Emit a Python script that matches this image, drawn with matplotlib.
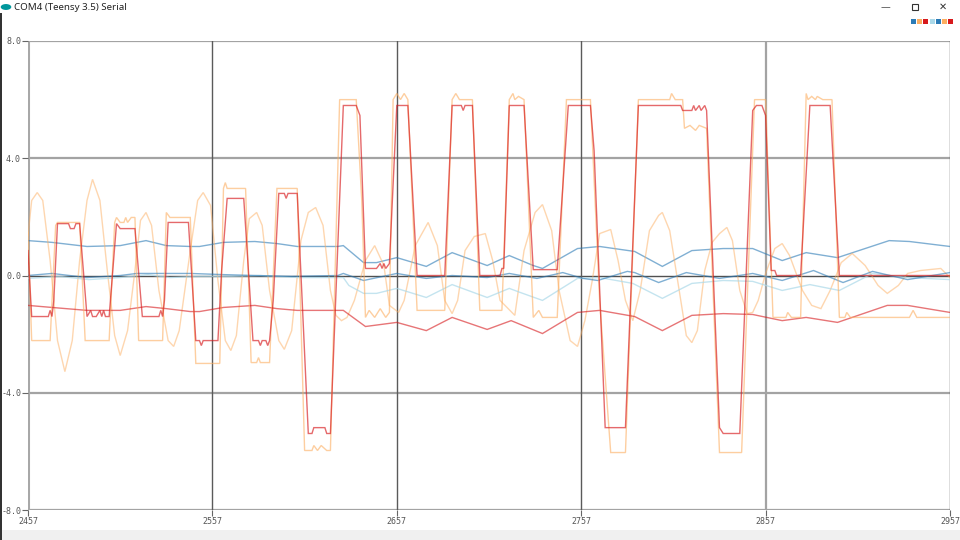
import matplotlib
matplotlib.use("Agg")
import matplotlib.pyplot as plt
from matplotlib.patches import Rectangle, Circle

# ---------------- data (sample index, value) ----------------
blue_up_x = [2457, 2470, 2489, 2507, 2521, 2532, 2545, 2550, 2563, 2580, 2592, 2603, 2625, 2628, 2639, 2646,
             2657, 2673, 2687, 2706, 2718, 2731, 2736, 2755, 2767, 2786, 2801, 2817, 2834, 2850, 2866, 2879,
             2896, 2924, 2935, 2957]
blue_up_y = [1.19, 1.13, 0.99, 1.02, 1.19, 1.02, 0.99, 0.99, 1.13, 1.16, 1.09, 0.99, 0.99, 1.02, 0.44, 0.44,
             0.61, 0.31, 0.78, 0.34, 0.68, 0.34, 0.24, 0.92, 0.99, 0.82, 0.31, 0.85, 0.92, 0.92, 0.51, 0.78,
             0.61, 1.19, 1.16, 0.99]

orange_sine_x = [2457, 2459, 2462, 2465, 2469, 2473, 2477, 2481, 2485, 2489, 2492, 2496, 2500, 2504, 2507, 2511,
                 2515, 2518, 2521, 2524, 2528, 2533, 2536, 2539, 2545, 2549, 2552, 2556, 2560, 2564, 2567, 2570,
                 2574, 2577, 2581, 2584, 2588, 2593, 2596, 2600, 2605, 2609, 2613, 2617, 2621, 2624, 2627, 2630,
                 2634, 2640, 2645, 2650, 2653, 2658, 2661, 2667, 2674, 2679, 2683, 2687, 2690, 2694, 2699, 2705,
                 2709, 2713, 2721, 2726, 2732, 2736, 2741, 2745, 2751, 2755, 2759, 2763, 2767, 2770, 2773, 2777,
                 2781, 2785, 2789, 2794, 2799, 2801, 2805, 2811, 2814, 2817, 2820, 2824, 2828, 2832, 2836, 2839,
                 2843, 2847, 2850, 2853, 2857, 2862, 2866, 2870, 2877, 2882, 2887, 2892, 2898, 2904, 2911, 2918,
                 2923, 2929, 2934, 2941, 2952, 2957]
orange_sine_y = [1.36, 2.56, 2.83, 2.56, 0.51, -2.22, -3.28, -2.22, 0.51, 2.56, 3.28, 2.56, 0.17, -2.05, -2.73, -1.88,
                 0.17, 1.88, 2.15, 1.71, -0.51, -2.22, -2.42, -1.88, 0.85, 2.56, 2.83, 2.39, -0.17, -2.22, -2.56, -2.05,
                 0.51, 1.94, 2.15, 1.71, -0.51, -2.22, -2.52, -1.88, 1.19, 2.15, 2.32, 1.71, -0.51, -1.36, -1.54, -1.43,
                 -0.85, 0.51, 1.02, 0.34, -1.02, -1.26, -0.85, 1.02, 1.81, 1.02, -0.85, -1.30, -0.85, 0.85, 1.33, 1.43,
                 0.51, -0.85, -1.36, 0.85, 2.15, 2.42, 1.53, -0.51, -2.22, -2.42, -1.54, -0.17, 1.43, 1.50, 1.57, 0.51,
                 -0.85, -1.54, -0.51, 1.53, 2.05, 2.15, 1.53, -0.85, -2.05, -2.29, -1.88, 0.17, 1.13, 1.43, 1.64, 1.19,
                 -0.51, -1.30, -1.26, -0.85, 0.07, 0.92, 1.09, 0.68, -0.51, -1.02, -1.13, -0.51, 0.44, 0.75, 0.34, -0.34,
                 -0.61, -0.34, 0.07, 0.17, 0.24, -0.07]

red_low_x = [2457, 2470, 2489, 2507, 2521, 2532, 2545, 2550, 2563, 2580, 2592, 2603, 2625, 2628, 2640, 2657,
             2673, 2687, 2706, 2719, 2736, 2755, 2767, 2786, 2801, 2817, 2834, 2850, 2866, 2879, 2896, 2923,
             2934, 2957]
red_low_y = [-1.02, -1.09, -1.19, -1.19, -1.06, -1.13, -1.23, -1.23, -1.09, -1.02, -1.13, -1.19, -1.19, -1.19, -1.74, -1.60,
             -1.88, -1.43, -1.84, -1.54, -1.98, -1.26, -1.19, -1.40, -1.88, -1.36, -1.30, -1.33, -1.54, -1.43, -1.60, -1.02,
             -1.02, -1.26]

light_blue_x = [2457, 2474, 2490, 2507, 2522, 2534, 2550, 2566, 2583, 2604, 2625, 2628, 2631, 2639, 2646, 2657,
                2673, 2687, 2706, 2718, 2724, 2736, 2755, 2767, 2785, 2801, 2817, 2834, 2850, 2866, 2881, 2897,
                2915, 2934, 2957]
light_blue_y = [-0.10, -0.03, -0.14, -0.07, 0.03, -0.07, -0.03, -0.03, 0.0, -0.07, -0.07, -0.07, -0.34, -0.61, -0.61, -0.44,
                -0.75, -0.31, -0.75, -0.44, -0.58, -0.85, -0.10, -0.07, -0.27, -0.78, -0.27, -0.17, -0.20, -0.51, -0.31, -0.51,
                0.07, -0.07, -0.14]

blue_zero_x = [2457, 2470, 2489, 2507, 2516, 2545, 2563, 2580, 2600, 2625, 2628, 2639, 2657, 2673, 2687, 2706,
               2718, 2733, 2747, 2758, 2766, 2782, 2786, 2799, 2814, 2832, 2850, 2866, 2883, 2899, 2915, 2934, 2957]
blue_zero_y = [0.0, 0.07, -0.07, 0.0, 0.07, 0.07, 0.03, 0.0, -0.03, 0.0, 0.07, -0.17, 0.07, -0.10, 0.0, -0.07,
               0.07, -0.10, 0.10, -0.10, -0.17, 0.14, 0.10, -0.24, 0.10, -0.10, 0.07, -0.17, 0.17, -0.24, 0.14, -0.14, 0.10]

orange_sq_x = [2457, 2459, 2469, 2472, 2473, 2485, 2488, 2501, 2504, 2505, 2507, 2509, 2510, 2511, 2513, 2515,
               2517, 2530, 2532, 2534, 2545, 2548, 2561, 2563, 2564, 2565, 2575, 2578, 2581, 2582, 2583, 2588,
               2592, 2603, 2607, 2611, 2612, 2614, 2616, 2619, 2621, 2626, 2635, 2638, 2640, 2642, 2645, 2648,
               2651, 2653, 2655, 2657, 2659, 2661, 2663, 2668, 2683, 2687, 2689, 2691, 2698, 2702, 2714, 2718,
               2720, 2721, 2723, 2726, 2731, 2734, 2736, 2744, 2749, 2762, 2767, 2773, 2781, 2788, 2805, 2806,
               2808, 2812, 2813, 2816, 2819, 2821, 2825, 2832, 2844, 2851, 2857, 2861, 2868, 2869, 2871, 2876,
               2879, 2880, 2882, 2884, 2885, 2888, 2893, 2897, 2900, 2901, 2903, 2935, 2937, 2939, 2957]
orange_sq_y = [1.47, -2.22, -2.22, 1.71, 1.81, 1.81, -2.22, -2.22, 1.81, 1.98, 1.81, 1.81, 1.98, 1.81, 1.98, 1.98,
               -2.22, -2.22, 2.15, 1.98, 1.98, -3.00, -3.00, 2.97, 3.17, 2.97, 2.97, -2.97, -2.97, -2.80, -2.97, -2.97,
               2.97, 2.97, -5.97, -5.97, -5.80, -5.97, -5.80, -5.97, -5.97, 6.00, 6.00, 2.56, -1.43, -1.19, -1.43, -1.13,
               -1.43, -1.26, 6.00, 6.21, 6.00, 6.21, 6.00, -1.19, -1.19, 6.00, 6.21, 6.00, 6.00, -1.19, -1.19, 6.00,
               6.21, 6.00, 6.11, 6.00, -1.43, -1.19, -1.43, -1.43, 6.00, 6.00, -0.85, -6.04, -6.04, 6.00, 6.00, 6.21,
               6.00, 6.00, 5.02, 5.12, 4.95, 5.12, 5.02, -6.04, -6.04, 6.00, 6.00, -1.43, -1.43, -1.26, -1.43, -1.43,
               6.21, 6.00, 6.11, 6.00, 6.11, 6.00, 6.00, -1.43, -1.43, -1.26, -1.43, -1.43, -1.19, -1.43, -1.43]

red_sq_x = [2457, 2459, 2468, 2469, 2470, 2471, 2473, 2479, 2480, 2482, 2483, 2485, 2489, 2491, 2492, 2494,
            2496, 2497, 2498, 2499, 2501, 2505, 2507, 2515, 2519, 2528, 2529, 2530, 2531, 2533, 2544, 2548,
            2550, 2551, 2552, 2560, 2562, 2565, 2574, 2579, 2582, 2583, 2584, 2586, 2587, 2588, 2590, 2593,
            2596, 2597, 2598, 2603, 2609, 2611, 2612, 2618, 2619, 2621, 2628, 2635, 2637, 2640, 2646, 2648,
            2649, 2650, 2651, 2653, 2657, 2663, 2668, 2683, 2687, 2692, 2693, 2694, 2698, 2702, 2713, 2714,
            2715, 2718, 2726, 2731, 2744, 2750, 2762, 2764, 2770, 2781, 2788, 2811, 2812, 2817, 2818, 2819,
            2821, 2822, 2824, 2825, 2832, 2834, 2843, 2850, 2852, 2855, 2857, 2860, 2862, 2863, 2876, 2881,
            2892, 2897, 2957]
red_sq_y = [0.85, -1.40, -1.40, -1.19, -1.40, -0.85, 1.77, 1.77, 1.60, 1.60, 1.77, 1.77, -1.40, -1.19, -1.40, -1.40,
            -1.19, -1.40, -1.19, -1.40, -1.40, 1.77, 1.60, 1.60, -1.40, -1.40, -1.19, -1.40, -0.85, 1.81, 1.81, -2.22,
            -2.22, -2.39, -2.22, -2.22, 0.17, 2.63, 2.63, -2.22, -2.22, -2.39, -2.22, -2.22, -2.39, -2.22, -0.85, 2.80,
            2.80, 2.63, 2.80, 2.80, -5.39, -5.39, -5.19, -5.19, -5.39, -5.39, 5.80, 5.80, 5.46, 0.24, 0.24, 0.41,
            0.24, 0.41, 0.24, 0.41, 5.80, 5.80, 0.0, 0.0, 5.80, 5.80, 5.63, 5.80, 5.80, 0.0, 0.0, 0.24,
            0.24, 5.80, 5.80, 0.20, 0.20, 5.80, 5.80, 4.26, -5.19, -5.19, 5.80, 5.80, 5.63, 5.63, 5.80, 5.63,
            5.80, 5.63, 5.80, 5.63, -5.19, -5.39, -5.39, 5.63, 5.80, 5.80, 5.46, 0.17, 0.17, 0.0, 0.0, 5.80,
            5.80, 0.0, 0.0]

x_ticks = [2457, 2557, 2657, 2757, 2857, 2957]
x_tick_labels = ["2457", "2557", "2657", "2757", "2857", "2957"]
y_ticks = [-8.0, -4.0, 0.0, 4.0, 8.0]
y_tick_labels = ["-8.0", "-4.0", "0.0", "4.0", "8.0"]

palette = ["#2c7bb6", "#fdae61", "#d7191c", "#abd9e9", "#2c7bb6", "#fdae61", "#d7191c"]
title = "COM4 (Teensy 3.5) Serial"

# ---------------- figure ----------------
W, H = 960, 540
fig = plt.figure(figsize=(9.6, 5.4), dpi=100)
fig.patch.set_facecolor("white")


def fx(px):
    return px / W


def fy(py):
    return 1 - py / H


ax = fig.add_axes([fx(28), fy(510), fx(950) - fx(28), fy(41) - fy(510)])
ax.set_xlim(x_ticks[0], x_ticks[-1])
ax.set_ylim(y_ticks[0], y_ticks[-1])
for s in ax.spines.values():
    s.set_visible(False)

# grid
for yv in y_ticks:
    if yv == 0:
        ax.axhline(yv, color="#505050", lw=1.0, zorder=1)
    else:
        ax.axhline(yv, color="#a3a3a3", lw=1.6, zorder=1)
for i, xv in enumerate(x_ticks):
    if i == 0:
        ax.axvline(xv, color="#a8a8a8", lw=2.2, zorder=1)
    elif xv == 2857:
        ax.axvline(xv, color="#a3a3a3", lw=1.6, zorder=1)
    else:
        ax.axvline(xv, color="#5a5a5a", lw=1.0, zorder=1)

series = [
    (blue_up_x, blue_up_y, 0.6),
    (orange_sine_x, orange_sine_y, 0.5),
    (red_low_x, red_low_y, 0.6),
    (light_blue_x, light_blue_y, 0.7),
    (blue_zero_x, blue_zero_y, 0.6),
    (orange_sq_x, orange_sq_y, 0.6),
    (red_sq_x, red_sq_y, 0.65),
]
for i, (xs, ys, a) in enumerate(series):
    ax.plot(xs, ys, color=palette[i], lw=1.0, alpha=a, zorder=2 + i, solid_joinstyle="miter")

ax.set_xticks(x_ticks)
ax.set_xticklabels(x_tick_labels)
ax.set_yticks(y_ticks)
ax.set_yticklabels(y_tick_labels)
ax.tick_params(axis="both", labelsize=6, colors="#666666", labelcolor="#555555",
               length=4, width=0.8, pad=1)
for lab in ax.get_xticklabels() + ax.get_yticklabels():
    lab.set_family("DejaVu Sans Mono")

# ---------------- window chrome ----------------
fig.patches.append(Circle((fx(6), fy(7)), 0.0055, transform=fig.transFigure,
                          facecolor="#00979c", edgecolor="none"))
fig.text(fx(14), fy(7.5), title, fontsize=7, color="#222222", va="center", ha="left",
         family=["Noto Sans", "DejaVu Sans"])
fig.text(fx(885), fy(7), "\u2014", fontsize=7, color="#555555", ha="center", va="center")
fig.patches.append(Rectangle((fx(911.5), fy(10)), fx(6), 1 - fy(6), transform=fig.transFigure,
                             facecolor="none", edgecolor="#333333", lw=0.8))
fig.text(fx(943), fy(7), "\u2715", fontsize=7, color="#333333", ha="center", va="center")
for i, c in enumerate(palette):
    fig.patches.append(Rectangle((fx(911 + 6.2 * i), fy(24)), fx(5), 1 - fy(5),
                                 transform=fig.transFigure, facecolor=c, edgecolor="none"))
fig.patches.append(Rectangle((0, 0), fx(2), fy(13), transform=fig.transFigure,
                             facecolor="#333333", edgecolor="none"))
fig.patches.append(Rectangle((fx(2), 0), 1, 1 - fy(10), transform=fig.transFigure,
                             facecolor="#f0f0f0", edgecolor="none"))

fig.savefig("out.png", dpi=100)
